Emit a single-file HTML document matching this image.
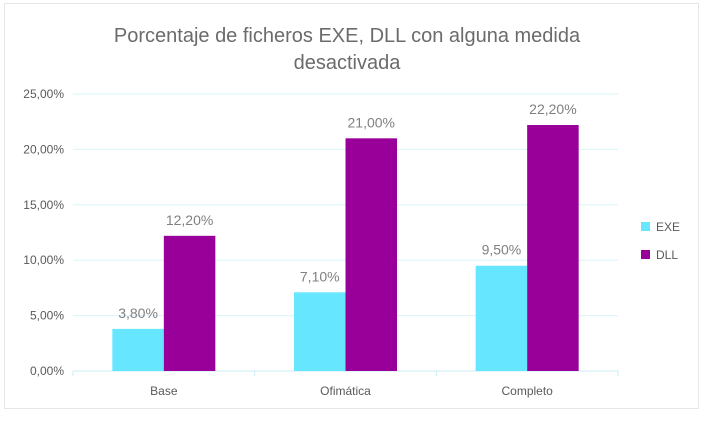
<!DOCTYPE html>
<html><head><meta charset="utf-8"><style>
body{margin:0;background:#fff;width:703px;height:416px;overflow:hidden;font-family:"Liberation Sans",sans-serif}
</style></head><body>
<svg width="703" height="416" xmlns="http://www.w3.org/2000/svg">
<rect x="4.5" y="3.5" width="694" height="405" fill="#fff" stroke="#e6e6e6"/>
<text x="347" y="42" text-anchor="middle" font-size="20" fill="#6b6b6b">Porcentaje de ficheros EXE, DLL con alguna medida</text>
<text x="347" y="69" text-anchor="middle" font-size="20" fill="#6b6b6b">desactivada</text>
<g id="grid"></g><g id="bars"></g><g id="labels"></g>
<rect x="641" y="222" width="9" height="9" fill="#66e6ff"/>
<text x="656" y="231" font-size="12" fill="#595959">EXE</text>
<rect x="641" y="250" width="9" height="9" fill="#990099"/>
<text x="656" y="259" font-size="12" fill="#595959">DLL</text>
</svg>
<script>
const categories=["Base","Ofimática","Completo"];
const exeValues=[3.8,7.1,9.5];
const dllValues=[12.2,21.0,22.2];
const yTicks=[0,5,10,15,20,25];
const NS="http://www.w3.org/2000/svg";
const x0=73,x1=618,yBase=371,yTop=94,yMax=25;
const y=v=>yBase-(v/yMax)*(yBase-yTop);
const gw=(x1-x0)/categories.length,bw=51.5;
function mk(tag,attrs,parent,txt){const e=document.createElementNS(NS,tag);for(const k in attrs)e.setAttribute(k,attrs[k]);if(txt!==undefined)e.textContent=txt;document.getElementById(parent).appendChild(e);return e;}
const fmt=v=>v.toFixed(2).replace(".",",")+"%";
yTicks.forEach(t=>{
 const l=mk("line",{x1:x0,x2:x1,y1:y(t),y2:y(t),stroke:t===0?"#c9eef5":"#d9f5fa","stroke-width":1},"grid");
 
 
 const tx=mk("text",{x:64,y:y(t)+4,"text-anchor":"end","font-size":12,fill:"#595959"},"labels",fmt(t));
 
 
});
for(let i=0;i<=categories.length;i++){
 const t=mk("line",{x1:x0+i*gw,x2:x0+i*gw,y1:yBase,y2:yBase+5,stroke:"#c9eef5"},"grid");
 
 
}
categories.forEach((c,i)=>{
 const cx=x0+gw*(i+0.5);
 [[exeValues[i],"#66e6ff",cx-bw,"exe"],[dllValues[i],"#990099",cx,"dll"]].forEach(([v,col,bx,s])=>{
  const r=mk("rect",{x:bx,y:y(v),width:bw,height:yBase-y(v),fill:col},"bars");
  
  
  const lt=mk("text",{x:bx+bw/2,y:y(v)-11,"text-anchor":"middle","font-size":14,fill:"#808080"},"labels",fmt(v));
  
  
 });
 const ct=mk("text",{x:cx,y:395,"text-anchor":"middle","font-size":12,fill:"#595959"},"labels",c);
 
 
});
</script>
</body></html>
